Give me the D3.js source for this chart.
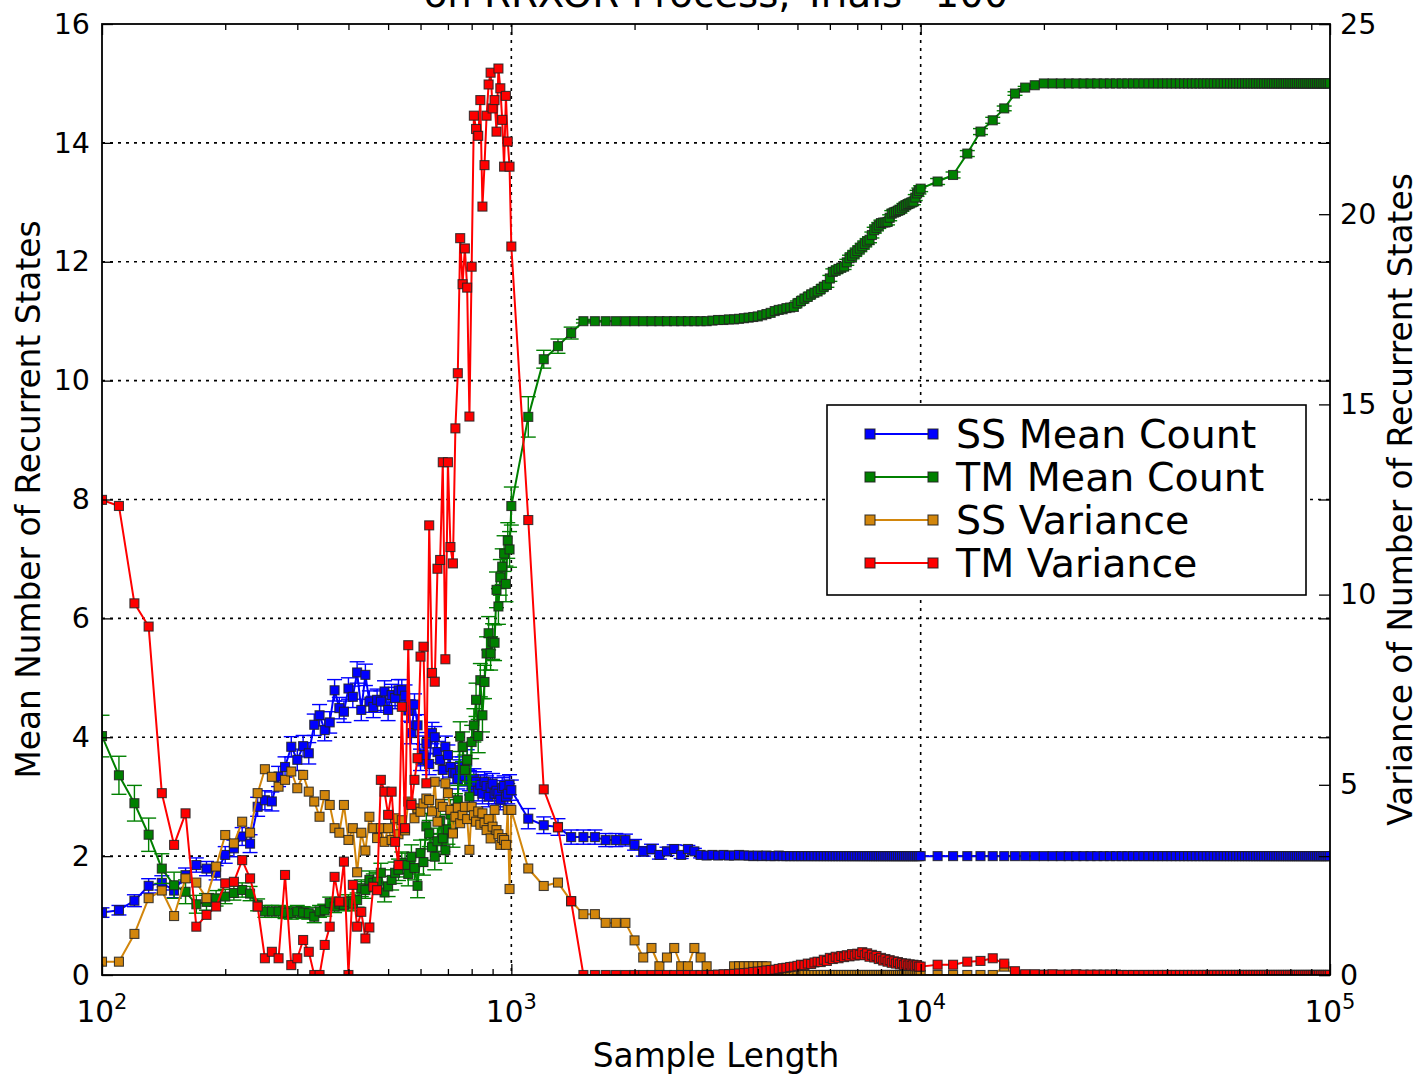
<!DOCTYPE html>
<html>
<head>
<meta charset="utf-8">
<script src="https://cdn.jsdelivr.net/npm/d3@7"></script>
<style>
  body { margin: 0; background: #fff; }
  svg text { font-family: "DejaVu Sans", sans-serif; fill: #000; }
</style>
</head>
<body>
<svg id="chart" width="1420" height="1075"></svg>
<script>
// Sample lengths at which the trials were evaluated
const sampleLength = [
  100,110,120,130,140,150,160,170,180,190,
  200,210,220,230,240,250,260,270,280,290,
  300,310,320,330,340,350,360,370,380,390,
  400,410,420,430,440,450,460,470,480,490,
  500,510,520,530,540,550,560,570,580,590,
  600,610,620,630,640,650,660,670,680,690,
  700,710,720,730,740,750,760,770,780,790,
  800,810,820,830,840,850,860,870,880,890,
  900,910,920,930,940,950,960,970,980,990,
  1000,
  1100,1200,1300,1400,1500,1600,1700,1800,1900,
  2000,2100,2200,2300,2400,2500,2600,2700,2800,2900,
  3000,3100,3200,3300,3400,3500,3600,3700,3800,3900,
  4000,4100,4200,4300,4400,4500,4600,4700,4800,4900,
  5000,5100,5200,5300,5400,5500,5600,5700,5800,5900,
  6000,6100,6200,6300,6400,6500,6600,6700,6800,6900,
  7000,7100,7200,7300,7400,7500,7600,7700,7800,7900,
  8000,8100,8200,8300,8400,8500,8600,8700,8800,8900,
  9000,9100,9200,9300,9400,9500,9600,9700,9800,9900,
  10000,
  11000,12000,13000,14000,15000,16000,17000,18000,19000,20000,
  21000,22000,23000,24000,25000,26000,27000,28000,29000,30000,
  31000,32000,33000,34000,35000,36000,37000,38000,39000,40000,
  41000,42000,43000,44000,45000,46000,47000,48000,49000,50000,
  51000,52000,53000,54000,55000,56000,57000,58000,59000,60000,
  61000,62000,63000,64000,65000,66000,67000,68000,69000,70000,
  71000,72000,73000,74000,75000,76000,77000,78000,79000,80000,
  81000,82000,83000,84000,85000,86000,87000,88000,89000,90000,
  91000,92000,93000,94000,95000,96000,97000,98000,99000,100000
];

// SS mean number of recurrent states (left axis) and its error
const ssMean = [
  1.05,1.09,1.25,1.50,1.55,1.42,1.68,1.85,1.79,1.72,
  2.02,2.13,2.33,2.21,2.83,2.94,2.92,3.34,3.50,3.84,
  3.62,3.85,3.73,4.21,4.37,4.12,4.25,4.79,4.49,4.43,
  4.82,4.68,5.09,4.46,5.05,4.60,4.51,4.63,4.60,4.77,
  4.46,4.71,4.66,4.79,4.79,4.70,4.45,4.07,4.55,4.20,
  3.62,3.70,3.90,3.55,4.07,4.00,3.75,3.62,3.45,3.84,
  3.70,3.50,3.40,3.39,3.30,3.45,3.50,3.35,3.62,3.27,
  3.20,3.30,3.25,3.10,3.20,3.05,3.25,3.18,3.00,3.15,
  3.22,3.05,3.10,3.05,2.95,3.15,3.18,3.00,3.05,3.20,
  3.11,
  2.63,2.52,2.49,2.32,2.32,2.32,2.27,2.27,2.27,
  2.19,2.08,2.12,2.02,2.08,2.12,2.02,2.12,2.08,2.02,
  2.01,2.02,2.01,2.02,2.01,2.01,2.02,2.01,2.01,2.00,
  2.01,2.00,2.01,2.00,2.00,2.01,2.00,2.00,2.00,2.00,
  2.00,2.00,2.00,2.00,2.00,2.00,2.00,2.00,2.00,2.00,
  2.00,2.00,2.00,2.00,2.00,2.00,2.00,2.00,2.00,2.00,
  2.00,2.00,2.00,2.00,2.00,2.00,2.00,2.00,2.00,2.00,
  2.00,2.00,2.00,2.00,2.00,2.00,2.00,2.00,2.00,2.00,
  2.00,2.00,2.00,2.00,2.00,2.00,2.00,2.00,2.00,2.00,
  2.00,
  2.00,2.00,2.00,2.00,2.00,2.00,2.00,2.00,2.00,2.00,
  2.00,2.00,2.00,2.00,2.00,2.00,2.00,2.00,2.00,2.00,
  2.00,2.00,2.00,2.00,2.00,2.00,2.00,2.00,2.00,2.00,
  2.00,2.00,2.00,2.00,2.00,2.00,2.00,2.00,2.00,2.00,
  2.00,2.00,2.00,2.00,2.00,2.00,2.00,2.00,2.00,2.00,
  2.00,2.00,2.00,2.00,2.00,2.00,2.00,2.00,2.00,2.00,
  2.00,2.00,2.00,2.00,2.00,2.00,2.00,2.00,2.00,2.00,
  2.00,2.00,2.00,2.00,2.00,2.00,2.00,2.00,2.00,2.00,
  2.00,2.00,2.00,2.00,2.00,2.00,2.00,2.00,2.00,2.00
];
const ssMeanErr = [
  0.08,0.08,0.10,0.12,0.12,0.12,0.12,0.12,0.12,0.12,
  0.14,0.14,0.15,0.15,0.16,0.16,0.16,0.17,0.17,0.17,
  0.18,0.18,0.18,0.18,0.18,0.18,0.18,0.18,0.18,0.18,
  0.18,0.18,0.18,0.18,0.18,0.18,0.18,0.18,0.18,0.18,
  0.18,0.18,0.18,0.18,0.18,0.18,0.18,0.18,0.18,0.18,
  0.18,0.18,0.18,0.18,0.18,0.18,0.18,0.18,0.18,0.18,
  0.17,0.17,0.17,0.17,0.17,0.17,0.17,0.17,0.17,0.17,
  0.17,0.17,0.17,0.17,0.17,0.17,0.17,0.17,0.17,0.17,
  0.17,0.17,0.17,0.17,0.17,0.17,0.17,0.17,0.17,0.17,
  0.17,
  0.17,0.14,0.14,0.12,0.12,0.12,0.11,0.11,0.10,
  0.09,0.08,0.08,0.07,0.07,0.07,0.06,0.06,0.05,0.05,
  0.04,0.04,0.04,0.03,0.03,0.03,0.03,0.02,0.02,0.02,
  0.01,0.01,0.01,0.01,0.01,0.01,0.01,0.01,0.01,0.01,
  0,0,0,0,0,0,0,0,0,0,
  0,0,0,0,0,0,0,0,0,0,
  0,0,0,0,0,0,0,0,0,0,
  0,0,0,0,0,0,0,0,0,0,
  0,0,0,0,0,0,0,0,0,0,
  0,
  0,0,0,0,0,0,0,0,0,0,
  0,0,0,0,0,0,0,0,0,0,
  0,0,0,0,0,0,0,0,0,0,
  0,0,0,0,0,0,0,0,0,0,
  0,0,0,0,0,0,0,0,0,0,
  0,0,0,0,0,0,0,0,0,0,
  0,0,0,0,0,0,0,0,0,0,
  0,0,0,0,0,0,0,0,0,0,
  0,0,0,0,0,0,0,0,0,0
];

// TM mean number of recurrent states (left axis) and its error
const tmMean = [
  4.02,3.36,2.89,2.36,1.79,1.51,1.40,1.19,1.23,1.29,
  1.32,1.38,1.43,1.37,1.18,1.07,1.07,1.07,1.05,1.04,
  1.07,1.05,1.04,0.98,1.07,1.09,1.21,1.15,1.20,1.18,
  1.23,1.20,1.26,1.46,1.43,1.60,1.55,1.57,1.72,1.39,
  1.49,1.60,1.72,1.77,1.89,1.85,1.70,1.99,1.80,1.50,
  2.05,1.90,2.50,2.38,2.15,1.99,2.25,2.60,2.30,2.10,
  2.45,2.70,2.40,2.80,2.94,4.01,3.84,3.45,3.62,3.00,
  3.92,4.20,4.63,4.02,4.96,4.37,4.93,5.41,5.75,5.41,
  5.61,5.59,6.48,6.20,6.69,6.87,7.09,6.58,7.31,7.16,
  7.89,
  9.39,10.36,10.58,10.80,11.00,11.00,11.00,11.00,11.00,
  11.00,11.00,11.00,11.00,11.00,11.00,11.00,11.00,11.00,11.00,
  11.00,11.01,11.02,11.02,11.03,11.03,11.04,11.05,11.06,11.07,
  11.08,11.10,11.12,11.14,11.17,11.19,11.20,11.22,11.23,11.24,
  11.30,11.34,11.38,11.41,11.45,11.48,11.50,11.54,11.58,11.61,
  11.72,11.83,11.85,11.88,11.90,11.92,11.99,12.06,12.10,12.14,
  12.18,12.22,12.26,12.30,12.34,12.37,12.45,12.53,12.57,12.61,
  12.65,12.66,12.66,12.67,12.74,12.81,12.83,12.84,12.86,12.87,
  12.90,12.93,12.95,12.97,12.98,13.00,13.01,13.08,13.15,13.19,
  13.23,
  13.35,13.46,13.82,14.19,14.38,14.58,14.83,14.93,14.97,15.00,
  15.00,15.00,15.00,15.00,15.00,15.00,15.00,15.00,15.00,15.00,
  15.00,15.00,15.00,15.00,15.00,15.00,15.00,15.00,15.00,15.00,
  15.00,15.00,15.00,15.00,15.00,15.00,15.00,15.00,15.00,15.00,
  15.00,15.00,15.00,15.00,15.00,15.00,15.00,15.00,15.00,15.00,
  15.00,15.00,15.00,15.00,15.00,15.00,15.00,15.00,15.00,15.00,
  15.00,15.00,15.00,15.00,15.00,15.00,15.00,15.00,15.00,15.00,
  15.00,15.00,15.00,15.00,15.00,15.00,15.00,15.00,15.00,15.00,
  15.00,15.00,15.00,15.00,15.00,15.00,15.00,15.00,15.00,15.00
];
const tmMeanErr = [
  0.35,0.32,0.30,0.28,0.25,0.22,0.20,0.15,0.14,0.13,
  0.12,0.12,0.12,0.12,0.10,0.10,0.10,0.10,0.10,0.10,
  0.10,0.10,0.10,0.10,0.10,0.10,0.10,0.10,0.10,0.10,
  0.12,0.12,0.12,0.14,0.14,0.15,0.15,0.15,0.16,0.16,
  0.17,0.17,0.18,0.18,0.18,0.20,0.20,0.20,0.20,0.20,
  0.22,0.22,0.22,0.22,0.22,0.22,0.22,0.22,0.22,0.22,
  0.25,0.25,0.25,0.25,0.25,0.25,0.25,0.25,0.25,0.25,
  0.28,0.28,0.28,0.28,0.28,0.28,0.28,0.28,0.28,0.28,
  0.30,0.30,0.30,0.30,0.30,0.30,0.30,0.30,0.30,0.30,
  0.32,
  0.34,0.15,0.12,0.10,0.03,0.01,0,0,0,
  0,0,0,0,0,0,0,0,0,0,
  0,0,0,0,0,0,0,0,0,0,
  0.02,0.02,0.02,0.02,0.02,0.02,0.02,0.02,0.02,0.02,
  0.04,0.04,0.04,0.04,0.04,0.04,0.04,0.04,0.04,0.04,
  0.05,0.05,0.05,0.05,0.05,0.05,0.05,0.05,0.05,0.05,
  0.05,0.05,0.05,0.05,0.05,0.05,0.05,0.05,0.05,0.05,
  0.05,0.05,0.05,0.05,0.05,0.05,0.05,0.05,0.05,0.05,
  0.05,0.05,0.05,0.05,0.05,0.05,0.05,0.05,0.05,0.05,
  0.05,
  0.05,0.05,0.05,0.05,0.05,0.04,0.03,0.02,0.01,0,
  0,0,0,0,0,0,0,0,0,0,
  0,0,0,0,0,0,0,0,0,0,
  0,0,0,0,0,0,0,0,0,0,
  0,0,0,0,0,0,0,0,0,0,
  0,0,0,0,0,0,0,0,0,0,
  0,0,0,0,0,0,0,0,0,0,
  0,0,0,0,0,0,0,0,0,0,
  0,0,0,0,0,0,0,0,0,0
];

// SS variance of the number of recurrent states (right axis)
const ssVar = [
  0.35,0.35,1.08,2.02,2.22,1.55,2.54,2.43,2.02,2.85,
  3.68,3.46,4.03,3.74,4.78,5.41,5.21,4.95,5.13,5.35,
  4.91,5.26,4.82,4.56,4.16,4.73,4.47,3.86,3.74,4.47,
  3.55,3.86,2.70,3.74,3.27,4.16,3.86,3.60,3.86,3.50,
  3.86,3.55,4.12,3.70,4.07,3.80,4.56,4.51,4.12,4.38,
  4.29,4.51,4.64,4.60,4.30,5.08,4.03,4.50,4.42,5.04,
  4.78,4.34,3.72,4.16,4.40,3.99,4.20,4.42,4.10,3.29,
  4.42,4.20,4.03,4.30,3.95,4.25,4.00,3.81,4.10,3.59,
  3.90,4.34,3.81,3.70,3.42,3.60,3.55,3.42,4.34,2.26,
  4.34,
  2.80,2.34,2.43,1.94,1.60,1.60,1.37,1.37,1.37,
  0.91,0.46,0.71,0.23,0.46,0.71,0.23,0.23,0.71,0.46,
  0.23,0.00,0.00,0.00,0.00,0.23,0.23,0.23,0.23,0.23,
  0.23,0.23,0.23,0.00,0.00,0.00,0.00,0.00,0.00,0.00,
  0,0,0,0,0,0,0,0,0,0,
  0,0,0,0,0,0,0,0,0,0,
  0,0,0,0,0,0,0,0,0,0,
  0,0,0,0,0,0,0,0,0,0,
  0,0,0,0,0,0,0,0,0,0,
  0,
  0,0,0,0,0,0.22,0,0,0,0,
  0,0,0,0,0,0,0,0,0,0,
  0,0,0,0,0,0,0,0,0,0,
  0,0,0,0,0,0,0,0,0,0,
  0,0,0,0,0,0,0,0,0,0,
  0,0,0,0,0,0,0,0,0,0,
  0,0,0,0,0,0,0,0,0,0,
  0,0,0,0,0,0,0,0,0,0,
  0,0,0,0,0,0,0,0,0,0
];

// TM variance of the number of recurrent states (right axis)
const tmVar = [
  12.49,12.33,9.77,9.16,4.78,3.42,4.25,1.27,1.58,1.80,
  2.41,2.45,3.02,2.54,1.80,0.44,0.61,0.44,2.63,0.26,
  0.44,0.92,0.61,0.00,0.00,0.79,1.27,2.58,1.93,2.98,
  0.00,2.37,1.27,1.66,0.96,1.25,2.32,2.23,5.13,4.82,
  4.21,4.82,3.50,2.89,7.05,3.86,8.67,4.47,5.13,5.70,
  8.37,8.63,5.04,11.82,7.94,7.71,10.68,10.91,13.48,8.30,
  13.48,11.25,10.82,14.37,15.82,19.37,18.16,19.10,18.07,14.68,
  18.62,22.59,22.24,22.06,23.00,20.20,21.29,22.59,23.41,23.72,
  22.78,23.00,22.17,23.83,23.31,22.48,21.25,23.11,21.91,21.25,
  19.15,
  11.96,4.88,3.88,1.94,0.00,0.00,0.00,0.00,0.00,
  0,0,0,0,0,0,0,0,0,0,
  0.00,0.00,0.01,0.02,0.02,0.03,0.04,0.05,0.06,0.08,
  0.09,0.10,0.12,0.13,0.14,0.16,0.18,0.19,0.21,0.22,
  0.24,0.27,0.26,0.30,0.29,0.33,0.35,0.34,0.40,0.37,
  0.45,0.42,0.48,0.44,0.50,0.47,0.52,0.49,0.55,0.51,
  0.56,0.53,0.60,0.52,0.57,0.48,0.53,0.46,0.50,0.42,
  0.45,0.38,0.42,0.35,0.39,0.32,0.36,0.30,0.34,0.28,
  0.31,0.26,0.30,0.25,0.28,0.24,0.27,0.23,0.26,0.22,
  0.22,
  0.27,0.27,0.35,0.37,0.44,0.30,0.10,0.02,0.02,0.01,
  0.02,0.01,0.01,0.02,0.01,0.01,0.01,0.01,0.01,0.01,
  0,0,0,0,0,0,0,0,0,0,
  0,0,0,0,0,0,0,0,0,0,
  0,0,0,0,0,0,0,0,0,0,
  0,0,0,0,0,0,0,0,0,0,
  0,0,0,0,0,0,0,0,0,0,
  0,0,0,0,0,0,0,0,0,0,
  0,0,0,0,0,0,0,0,0,0
];

// Axis ticks
const xMajorTicks = [100, 1000, 10000, 100000];
const xTickExponents = ["2", "3", "4", "5"];
const leftTicks = [0, 2, 4, 6, 8, 10, 12, 14, 16];
const rightTicks = [0, 5, 10, 15, 20, 25];

const titleText = "on RRXOR Process, Trials=100";
const xLabel = "Sample Length";
const leftLabel = "Mean Number of Recurrent States";
const rightLabel = "Variance of Number of Recurrent States";

// ---- layout ----
const plot = { left: 102, right: 1330, top: 24, bottom: 975 };
const x = d3.scaleLog().domain([100, 100000]).range([plot.left, plot.right]);
const yL = d3.scaleLinear().domain([0, 16]).range([plot.bottom, plot.top]);
const yR = d3.scaleLinear().domain([0, 25]).range([plot.bottom, plot.top]);

const svg = d3.select("#chart");
svg.append("rect").attr("width", 1420).attr("height", 1075).attr("fill", "#fff");

svg.append("defs").append("clipPath").attr("id", "plotClip")
  .append("rect")
  .attr("x", plot.left).attr("y", plot.top)
  .attr("width", plot.right - plot.left).attr("height", plot.bottom - plot.top);

// dotted grid at major ticks
const grid = svg.append("g").attr("stroke", "#000").attr("stroke-width", 1.6)
  .attr("stroke-dasharray", "3,5").attr("fill", "none");
grid.selectAll("line.gx").data(xMajorTicks.slice(1, -1)).join("line").attr("class", "gx")
  .attr("x1", d => x(d)).attr("x2", d => x(d))
  .attr("y1", plot.top).attr("y2", plot.bottom);
grid.selectAll("line.gy").data(leftTicks.slice(1, -1)).join("line").attr("class", "gy")
  .attr("x1", plot.left).attr("x2", plot.right)
  .attr("y1", d => yL(d)).attr("y2", d => yL(d));

// ---- series ----
const series = [
  { name: "SS Mean Count", values: ssMean, err: ssMeanErr, y: yL, color: "#0000ff" },
  { name: "TM Mean Count", values: tmMean, err: tmMeanErr, y: yL, color: "#008000" },
  { name: "SS Variance", values: ssVar, err: null, y: yR, color: "#d2860c" },
  { name: "TM Variance", values: tmVar, err: null, y: yR, color: "#ff0000" }
];

const markerSize = 9;
const capHalf = 7.5;
const layer = svg.append("g").attr("clip-path", "url(#plotClip)");

series.forEach(s => {
  const pts = sampleLength.map((n, i) => ({ n, v: s.values[i], e: s.err ? s.err[i] : 0 }));
  const g = layer.append("g");

  if (s.err) {
    const eb = g.append("g").attr("stroke", s.color).attr("stroke-width", 1.4);
    eb.selectAll("line.bar").data(pts).join("line").attr("class", "bar")
      .attr("x1", d => x(d.n)).attr("x2", d => x(d.n))
      .attr("y1", d => s.y(d.v - d.e)).attr("y2", d => s.y(d.v + d.e));
    eb.selectAll("line.capLo").data(pts).join("line").attr("class", "capLo")
      .attr("x1", d => x(d.n) - capHalf).attr("x2", d => x(d.n) + capHalf)
      .attr("y1", d => s.y(d.v - d.e)).attr("y2", d => s.y(d.v - d.e));
    eb.selectAll("line.capHi").data(pts).join("line").attr("class", "capHi")
      .attr("x1", d => x(d.n) - capHalf).attr("x2", d => x(d.n) + capHalf)
      .attr("y1", d => s.y(d.v + d.e)).attr("y2", d => s.y(d.v + d.e));
  }

  const line = d3.line().x(d => x(d.n)).y(d => s.y(d.v));
  g.append("path").datum(pts)
    .attr("d", line).attr("fill", "none")
    .attr("stroke", s.color).attr("stroke-width", 2).attr("stroke-linejoin", "round");

  g.selectAll("rect.mk").data(pts).join("rect").attr("class", "mk")
    .attr("x", d => x(d.n) - markerSize / 2).attr("y", d => s.y(d.v) - markerSize / 2)
    .attr("width", markerSize).attr("height", markerSize)
    .attr("fill", s.color).attr("stroke", "#222").attr("stroke-opacity", 0.85).attr("stroke-width", 1.1);
});

// ---- axes ----
const tickStyle = g => {
  g.select(".domain").remove();
  g.selectAll(".tick line").attr("stroke", "#000").attr("stroke-width", 1.3);
  g.selectAll(".tick text").attr("font-size", 28.5).attr("font-family", "DejaVu Sans");
};
const xMinorTicks = x.ticks().filter(d => !xMajorTicks.includes(d));

svg.append("g").attr("transform", `translate(0,${plot.bottom})`)
  .call(d3.axisBottom(x).tickValues(xMajorTicks).tickSize(-11).tickFormat(""))
  .call(tickStyle);
svg.append("g").attr("transform", `translate(0,${plot.bottom})`)
  .call(d3.axisBottom(x).tickValues(xMinorTicks).tickSize(-6).tickFormat(""))
  .call(tickStyle);
svg.append("g").attr("transform", `translate(0,${plot.top})`)
  .call(d3.axisTop(x).tickValues(xMajorTicks).tickSize(-11).tickFormat(""))
  .call(tickStyle);
svg.append("g").attr("transform", `translate(0,${plot.top})`)
  .call(d3.axisTop(x).tickValues(xMinorTicks).tickSize(-6).tickFormat(""))
  .call(tickStyle);

svg.append("g").attr("transform", `translate(${plot.left},0)`)
  .call(d3.axisLeft(yL).tickValues(leftTicks).tickSize(-11).tickPadding(12).tickFormat(d3.format("d")))
  .call(tickStyle);
svg.append("g").attr("transform", `translate(${plot.right},0)`)
  .call(d3.axisRight(yL).tickValues(leftTicks).tickSize(-11).tickFormat(""))
  .call(tickStyle);
svg.append("g").attr("transform", `translate(${plot.right},0)`)
  .call(d3.axisRight(yR).tickValues(rightTicks).tickSize(-11).tickPadding(10).tickFormat(d3.format("d")))
  .call(tickStyle);

// x tick labels as powers of ten
const xl = svg.append("g");
xMajorTicks.forEach((t, i) => {
  const txt = xl.append("text").attr("x", x(t)).attr("y", 1022)
    .attr("text-anchor", "middle").attr("font-size", 29.5);
  txt.append("tspan").text("10");
  txt.append("tspan").attr("dy", -13).attr("font-size", 21).text(xTickExponents[i]);
});

// spines
svg.append("rect")
  .attr("x", plot.left).attr("y", plot.top)
  .attr("width", plot.right - plot.left).attr("height", plot.bottom - plot.top)
  .attr("fill", "none").attr("stroke", "#000").attr("stroke-width", 1.8);

// ---- labels ----
svg.append("text").attr("x", (plot.left + plot.right) / 2).attr("y", 7)
  .attr("text-anchor", "middle").attr("font-size", 38.7).text(titleText);
svg.append("text").attr("x", (plot.left + plot.right) / 2).attr("y", 1067)
  .attr("text-anchor", "middle").attr("font-size", 32.8).text(xLabel);
svg.append("text")
  .attr("transform", `translate(40,${(plot.top + plot.bottom) / 2}) rotate(-90)`)
  .attr("text-anchor", "middle").attr("font-size", 32.8).text(leftLabel);
svg.append("text")
  .attr("transform", `translate(1412,${(plot.top + plot.bottom) / 2}) rotate(-90)`)
  .attr("text-anchor", "middle").attr("font-size", 32.8).text(rightLabel);

// ---- legend ----
const legend = svg.append("g");
legend.append("rect").attr("x", 827).attr("y", 405).attr("width", 479).attr("height", 190)
  .attr("fill", "#fff").attr("stroke", "#000").attr("stroke-width", 1.6);
series.forEach((s, i) => {
  const cy = 434 + i * 43;
  const row = legend.append("g");
  row.append("line").attr("x1", 870).attr("x2", 933).attr("y1", cy).attr("y2", cy)
    .attr("stroke", s.color).attr("stroke-width", 2);
  [870, 933].forEach(mx => {
    row.append("rect").attr("x", mx - 5).attr("y", cy - 5).attr("width", 10).attr("height", 10)
      .attr("fill", s.color).attr("stroke", "#222").attr("stroke-opacity", 0.85).attr("stroke-width", 1.1);
  });
  row.append("text").attr("x", 956).attr("y", cy + 14).attr("font-size", 39.5).text(s.name);
});
</script>
</body>
</html>
